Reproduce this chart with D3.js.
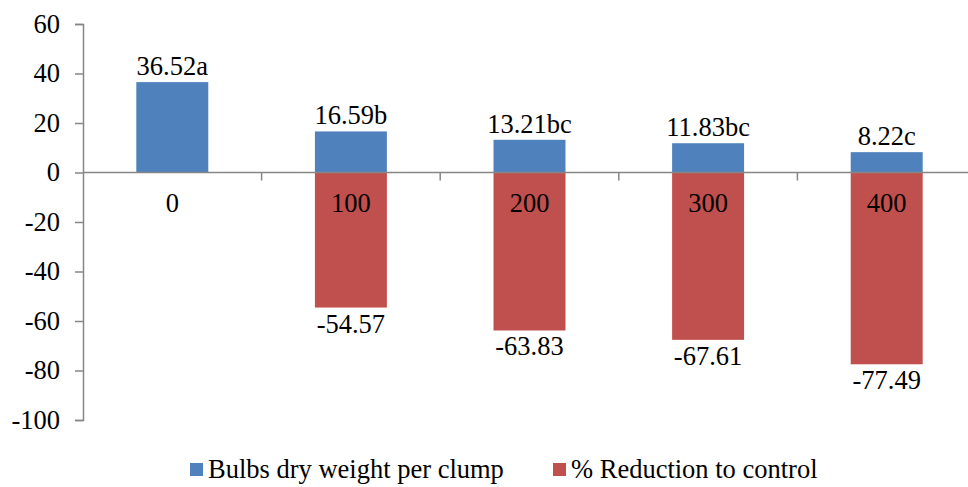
<!DOCTYPE html>
<html>
<head>
<meta charset="utf-8">
<script src="https://cdn.jsdelivr.net/npm/d3@7/dist/d3.min.js"></script>
<style>
  html, body { margin: 0; padding: 0; background: #fff; }
  svg { display: block; }
</style>
</head>
<body>
<svg id="chart" width="968" height="487"></svg>
<script>
// Treatment levels along the x axis
const categories = ["0", "100", "200", "300", "400"];
// Bulbs dry weight per clump and its significance letters
const dryWeight = [36.52, 16.59, 13.21, 11.83, 8.22];
const dryWeightLetters = ["a", "b", "bc", "bc", "c"];
// Percent reduction relative to the control (none for the control itself)
const reduction = [null, -54.57, -63.83, -67.61, -77.49];
// Value axis ticks
const yTicks = [-100, -80, -60, -40, -20, 0, 20, 40, 60];
const seriesNames = ["Bulbs dry weight per clump", "% Reduction to control"];
const seriesColors = ["#4F81BD", "#C0504D"];

const FONT = '"Liberation Serif", "Times New Roman", serif';
const svg = d3.select("#chart");
const plot = { left: 83, right: 976, top: 24, bottom: 420 };
const fontSize = 26.5;
const axisColor = "#868686";

const y = d3.scaleLinear().domain([-100, 60]).range([plot.bottom, plot.top]);
const x = d3.scaleBand().domain(categories).range([plot.left, plot.right])
  .paddingInner(0.597).paddingOuter(0.2985);

function label(sel) {
  return sel.style("font-family", FONT).style("font-size", fontSize + "px").attr("fill", "#000");
}

// Value axis
const yAxis = d3.axisLeft(y).tickValues(yTicks).tickSize(8).tickPadding(15)
  .tickFormat(d => String(d));
const gy = svg.append("g").attr("transform", `translate(${plot.left},0)`).call(yAxis);
gy.select(".domain").attr("stroke", axisColor).attr("stroke-width", 1.5);
gy.selectAll(".tick line").attr("stroke", axisColor).attr("stroke-width", 1.5);
label(gy.selectAll(".tick text"));

// Bars: dry weight (positive) and reduction (negative) share the same slot
const gBars = svg.append("g");
gBars.selectAll("rect.dw").data(categories).join("rect")
  .attr("class", "dw")
  .attr("x", d => x(d))
  .attr("width", x.bandwidth())
  .attr("y", (d, i) => y(dryWeight[i]))
  .attr("height", (d, i) => y(0) - y(dryWeight[i]))
  .attr("fill", seriesColors[0]);

const redData = categories.map((c, i) => ({ c, v: reduction[i] })).filter(d => d.v !== null);
gBars.selectAll("rect.red").data(redData).join("rect")
  .attr("class", "red")
  .attr("x", d => x(d.c))
  .attr("width", x.bandwidth())
  .attr("y", y(0))
  .attr("height", d => y(d.v) - y(0))
  .attr("fill", seriesColors[1]);

// Category axis along zero
const gx = svg.append("g");
gx.append("line")
  .attr("x1", plot.left).attr("x2", plot.right)
  .attr("y1", y(0)).attr("y2", y(0))
  .attr("stroke", axisColor).attr("stroke-width", 1.5);
const boundaries = d3.range(categories.length + 1).map(i => plot.left + i * x.step());
gx.selectAll("line.tk").data(boundaries.slice(1)).join("line")
  .attr("class", "tk")
  .attr("x1", d => d).attr("x2", d => d)
  .attr("y1", y(0)).attr("y2", y(0) + 8)
  .attr("stroke", axisColor).attr("stroke-width", 1.5);
label(gx.selectAll("text").data(categories).join("text")
  .attr("x", d => x(d) + x.bandwidth() / 2)
  .attr("y", y(0) + 39)
  .attr("text-anchor", "middle")
  .text(d => d));

// Value labels
label(svg.append("g").selectAll("text").data(categories).join("text")
  .attr("x", d => x(d) + x.bandwidth() / 2)
  .attr("y", (d, i) => y(dryWeight[i]) - 7)
  .attr("text-anchor", "middle")
  .text((d, i) => dryWeight[i].toFixed(2) + dryWeightLetters[i]));

label(svg.append("g").selectAll("text").data(redData).join("text")
  .attr("x", d => x(d.c) + x.bandwidth() / 2)
  .attr("y", d => y(d.v) + 25)
  .attr("text-anchor", "middle")
  .text(d => d.v.toFixed(2)));

// Legend
const legendItems = [
  { name: seriesNames[0], color: seriesColors[0], x: 190 },
  { name: seriesNames[1], color: seriesColors[1], x: 553 }
];
const lg = svg.append("g");
legendItems.forEach(it => {
  lg.append("rect").attr("x", it.x).attr("y", 463).attr("width", 13).attr("height", 13)
    .attr("fill", it.color);
  label(lg.append("text").attr("x", it.x + 18).attr("y", 478)).text(it.name);
});
</script>
</body>
</html>
